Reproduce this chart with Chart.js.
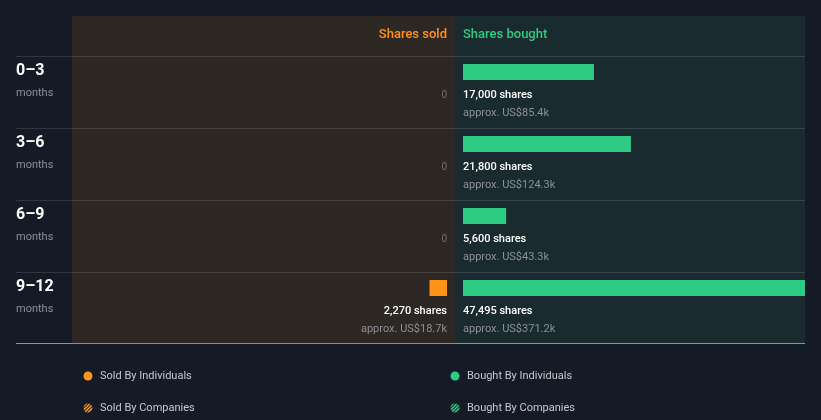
<!DOCTYPE html>
<html><head><meta charset="utf-8">
<script src="https://cdn.jsdelivr.net/npm/chart.js@4"></script>
<style>html,body{margin:0;padding:0;background:#151b26;overflow:hidden}#wrap{width:821px;height:420px;position:relative}</style>
</head><body><div id="wrap"><canvas id="c" width="821" height="420"></canvas></div>
<script>
// ---- data ----
const periods = ['0–3', '3–6', '6–9', '9–12'];
const periodUnit = 'months';
const sharesSold = [0, 0, 0, 2270];
const sharesBought = [17000, 21800, 5600, 47495];
const valueSold = ['', '', '', 'US$18.7k'];
const valueBought = ['US$85.4k', 'US$124.3k', 'US$43.3k', 'US$371.2k'];
const headers = ['Shares sold', 'Shares bought'];
const legendSold = ['Sold By Individuals', 'Sold By Companies'];
const legendBought = ['Bought By Individuals', 'Bought By Companies'];

// ---- styles ----
const ORANGE = '#ff9418';
const GREEN = '#2ecc82';
const BG = '#151b26';
const SOLD_BG = '#2d2823';
const BOUGHT_BG = '#1a2b2f';
const FONT = 'Roboto, "Open Sans", sans-serif';
const BAR = 16;
const SPLIT = 383; // width of sold panel from chart left

const layoutPlugin = {
  id: 'splitScales',
  afterLayout(chart) {
    const a = chart.chartArea;
    const xs = chart.scales.xs, xb = chart.scales.xb;
    const mid = a.left + SPLIT;
    xs.left = a.left; xs.right = mid - 8; xs.width = xs.right - xs.left; xs.configure();
    xb.left = mid + 8; xb.right = a.right; xb.width = xb.right - xb.left; xb.configure();
  },
  beforeDraw(chart) {
    const ctx = chart.ctx, a = chart.chartArea, y = chart.scales.y;
    const mid = a.left + SPLIT;
    const top = y.getPixelForValue(0) - BAR - 40;
    const bottom = y.getPixelForValue(periods.length - 1) - BAR + 71;
    ctx.save();
    ctx.fillStyle = BG; ctx.fillRect(0, 0, chart.width, chart.height);
    ctx.fillStyle = SOLD_BG; ctx.fillRect(a.left, top, SPLIT, bottom - top);
    ctx.fillStyle = BOUGHT_BG; ctx.fillRect(mid, top, a.right - mid, bottom - top);
    // row lines
    ctx.fillStyle = 'rgba(255,255,255,0.12)';
    periods.forEach((p, i) => {
      const rt = Math.round(y.getPixelForValue(i) - BAR);
      ctx.fillRect(16, rt, a.right - 16, 1);
    });
    ctx.fillStyle = '#8d9198';
    ctx.fillRect(16, bottom, a.right - 16, 1);
    // headers
    ctx.textBaseline = 'middle';
    ctx.font = '500 13px ' + FONT;
    ctx.fillStyle = ORANGE; ctx.textAlign = 'right';
    const hy = top + 19;
    ctx.fillText(headers[0], chart.scales.xs.getPixelForValue(0), hy);
    ctx.fillStyle = GREEN; ctx.textAlign = 'left';
    ctx.fillText(headers[1], chart.scales.xb.getPixelForValue(0), hy);
    // row labels
    periods.forEach((p, i) => {
      const rt = y.getPixelForValue(i) - BAR;
      ctx.textAlign = 'left';
      ctx.fillStyle = '#ffffff'; ctx.font = 'bold 16px ' + FONT;
      ctx.fillText(p, 16, rt + 15);
      ctx.fillStyle = '#8a8f97'; ctx.font = '11px ' + FONT;
      ctx.fillText(periodUnit, 16, rt + 37);
    });
    // legend
    const ly1 = bottom + 33, ly2 = bottom + 65;
    function dot(x, yy, col, hatch) {
      ctx.save();
      ctx.beginPath(); ctx.arc(x, yy, 4.5, 0, Math.PI * 2);
      if (!hatch) { ctx.fillStyle = col; ctx.fill(); }
      else {
        ctx.fillStyle = '#2a2a2a'; ctx.fill(); ctx.clip();
        ctx.strokeStyle = col; ctx.lineWidth = 1.4;
        for (let k = -6; k <= 6; k += 3.5) { ctx.beginPath(); ctx.moveTo(x + k - 6, yy + 6); ctx.lineTo(x + k + 6, yy - 6); ctx.stroke(); }
      }
      ctx.restore();
    }
    ctx.font = '11px ' + FONT; ctx.textAlign = 'left';
    dot(88, ly1, ORANGE, false); ctx.fillStyle = '#c5c8cd'; ctx.fillText(legendSold[0], 100, ly1);
    dot(88, ly2, ORANGE, true); ctx.fillStyle = '#c5c8cd'; ctx.fillText(legendSold[1], 100, ly2);
    dot(mid, ly1, GREEN, false); ctx.fillStyle = '#c5c8cd'; ctx.fillText(legendBought[0], mid + 12, ly1);
    dot(mid, ly2, GREEN, true); ctx.fillStyle = '#c5c8cd'; ctx.fillText(legendBought[1], mid + 12, ly2);
    ctx.restore();
  },
  afterDatasetsDraw(chart) {
    const ctx = chart.ctx, y = chart.scales.y;
    ctx.save();
    ctx.textBaseline = 'middle';
    const sets = [
      {vals: sharesSold, usd: valueSold, scale: chart.scales.xs, align: 'right'},
      {vals: sharesBought, usd: valueBought, scale: chart.scales.xb, align: 'left'}
    ];
    sets.forEach(s => {
      const x0 = s.scale.getPixelForValue(0);
      ctx.textAlign = s.align;
      s.vals.forEach((v, i) => {
        const cy = y.getPixelForValue(i);
        if (!v) {
          ctx.font = '10px ' + FONT; ctx.fillStyle = '#6f6d6a';
          ctx.fillText('0', x0, cy + 23);
          return;
        }
        ctx.font = '500 11px ' + FONT; ctx.fillStyle = '#ffffff';
        ctx.fillText(v.toLocaleString('en-US') + ' shares', x0, cy + 23);
        ctx.font = '11px ' + FONT; ctx.fillStyle = '#8c9095';
        ctx.fillText('approx. ' + s.usd[i], x0, cy + 41);
      });
    });
    ctx.restore();
  }
};

new Chart(document.getElementById('c'), {
  type: 'bar',
  data: {
    labels: periods,
    datasets: [
      {label: headers[0], data: sharesSold, xAxisID: 'xs', backgroundColor: ORANGE, barThickness: BAR, grouped: false, clip: 0, borderWidth: 0, inflateAmount: 0},
      {label: headers[1], data: sharesBought, xAxisID: 'xb', backgroundColor: GREEN, barThickness: BAR, grouped: false, clip: 0, borderWidth: 0, inflateAmount: 0}
    ]
  },
  options: {
    indexAxis: 'y',
    responsive: false,
    animation: false,
    devicePixelRatio: 1,
    layout: {padding: {left: 72, right: 16, top: 36, bottom: 96}},
    scales: {
      y: {display: false, offset: true},
      xs: {type: 'linear', axis: 'x', position: 'bottom', display: false, reverse: true, min: 0, max: 48700},
      xb: {type: 'linear', axis: 'x', position: 'bottom', display: false, min: 0, max: 44400}
    },
    plugins: {legend: {display: false}, tooltip: {enabled: false}}
  },
  plugins: [layoutPlugin]
});
</script>
</body></html>
